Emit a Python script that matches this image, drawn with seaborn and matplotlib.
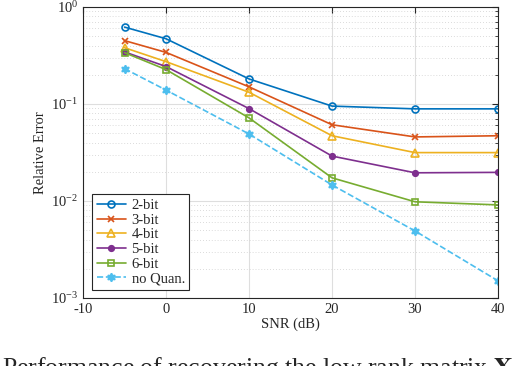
import numpy as np
import pandas as pd
import matplotlib
matplotlib.use('Agg')
import matplotlib.pyplot as plt
import seaborn as sns
from matplotlib.ticker import LogLocator, NullFormatter

# data
snr = [-5, 0, 10, 20, 30, 40]
err_2bit = [0.62, 0.47, 0.181, 0.095, 0.089, 0.089]
err_3bit = [0.45, 0.34, 0.150, 0.061, 0.0457, 0.047]
err_4bit = [0.38, 0.273, 0.132, 0.047, 0.0315, 0.0315]
err_5bit = [0.344, 0.243, 0.0895, 0.029, 0.0195, 0.0197]
err_6bit = [0.338, 0.226, 0.0718, 0.0173, 0.0098, 0.0091]
err_noq = [0.231, 0.139, 0.049, 0.0146, 0.0049, 0.0015]

labels = ['2-bit', '3-bit', '4-bit', '5-bit', '6-bit', 'no Quan.']
series = [err_2bit, err_3bit, err_4bit, err_5bit, err_6bit, err_noq]
colors = ['#0072BD', '#D95319', '#EDB120', '#7E2F8E', '#77AC30', '#4DBEEE']
markers = ['o', 'x', '^', 'o', 's', (6, 1, 0)]
filled = [False, True, False, True, False, True]
msizes = [5, 4, 6, 4, 4, 6]
styles = ['-', '-', '-', '-', '-', '--']

sns.set_style('white')
plt.rcParams['font.family'] = ['Liberation Serif', 'DejaVu Serif']
plt.rcParams['mathtext.fontset'] = 'stix'

fig = plt.figure(figsize=(5.14, 3.66), dpi=100)
ax = fig.add_axes([0.1615, 0.186, 0.8075, 0.795])

for lab, vals, c, m, f, ms, ls in zip(labels, series, colors, markers, filled, msizes, styles):
    d = pd.DataFrame({'snr': snr, 'err': vals})
    sns.lineplot(data=d, x='snr', y='err', ax=ax, color=c, marker=m,
                 markersize=ms, markeredgewidth=1.2,
                 markerfacecolor=(c if f else 'none'), markeredgecolor=c,
                 linewidth=1.2, linestyle=ls, label=lab)

ax.set_yscale('log')
ax.set_xlim(-10, 40)
ax.set_ylim(1e-3, 1)
ax.set_xticks([-10, 0, 10, 20, 30, 40])
ax.set_xticklabels(['-10', '0', '10', '20', '30', '40'])
ax.yaxis.set_major_locator(LogLocator(base=10, numticks=10))
ax.yaxis.set_minor_locator(LogLocator(base=10, subs=np.arange(2, 10), numticks=10))
ax.yaxis.set_minor_formatter(NullFormatter())

ax.grid(True, which='major', color='#dedede', linewidth=0.8, linestyle='-')
ax.grid(True, which='minor', axis='y', color='#cfcfcf', linewidth=0.6, linestyle=(0, (1, 2.5)))
ax.set_axisbelow(True)

ax.tick_params(which='both', direction='in', top=True, right=True, labelsize=10.5,
               colors='#262626', length=4)
ax.tick_params(which='minor', length=2.5)
for sp in ax.spines.values():
    sp.set_color('#262626')
    sp.set_linewidth(0.8)

ax.set_xlabel('SNR (dB)', fontsize=10.5, labelpad=1, color='#262626')
ax.set_ylabel('Relative Error', fontsize=10.5, labelpad=3, color='#262626')

leg = ax.legend(loc='lower left', bbox_to_anchor=(0.022, 0.028), fontsize=10.5,
                frameon=True, fancybox=False, edgecolor='#262626', framealpha=1,
                handlelength=2.0, handletextpad=0.4, labelspacing=0.1,
                borderpad=0.3, borderaxespad=0.0)
leg.get_frame().set_linewidth(0.8)

# figure caption, cut off at the bottom edge as in the reference
fig.text(0.004, 0.03, r'Performance of recovering the low rank matrix $\mathbf{X}$',
         fontsize=18.5, va='top', ha='left')

fig.savefig('out.png', dpi=100)
